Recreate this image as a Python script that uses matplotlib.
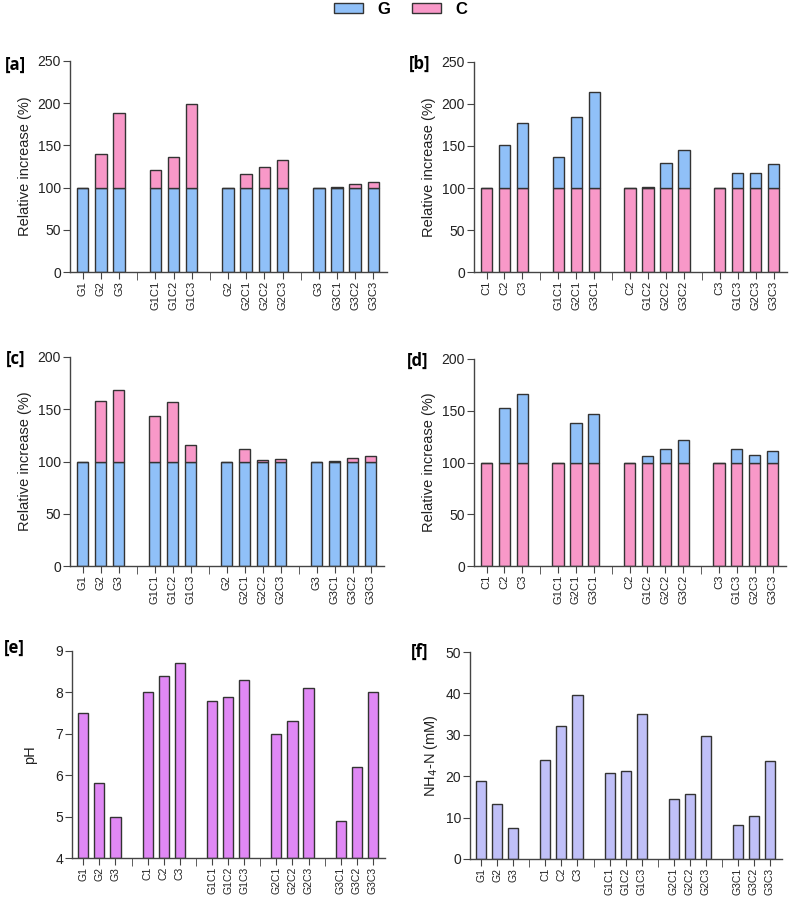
import matplotlib.pyplot as plt
import matplotlib.patches as mpatches
import numpy as np

plt.rcParams['font.family'] = ['Liberation Sans', 'DejaVu Sans']

blue = '#90C0F8'
pink = '#F898C8'
purple = '#E088F5'
lav = '#C0C0F8'
edge = '#333333'

# panel a / c : G base with C on top
labels_ac = ['G1', 'G2', 'G3', 'G1C1', 'G1C2', 'G1C3', 'G2', 'G2C1', 'G2C2', 'G2C3',
             'G3', 'G3C1', 'G3C2', 'G3C3']
total_a = [100, 140, 188, 120.5, 136.6, 198.7, 100, 116.5, 124.4, 132.3, 100, 100.5, 104.7, 107]
total_c = [100, 157.5, 168.4, 143.5, 156.5, 115.7, 100, 111.5, 101.6, 102.2, 100, 100.5, 103.5, 104.8]

# panel b / d : C base with G on top
labels_bd = ['C1', 'C2', 'C3', 'G1C1', 'G2C1', 'G3C1', 'C2', 'G1C2', 'G2C2', 'G3C2',
             'C3', 'G1C3', 'G2C3', 'G3C3']
total_b = [100, 151.5, 176.8, 136.5, 184.3, 214.8, 100, 101.3, 129.4, 145.2, 100, 117.5, 117.5, 128.6]
total_d = [100, 152.3, 166.5, 100, 137.7, 146.5, 100, 105.8, 113.5, 121.6, 100, 112.6, 106.8, 111]

base = [100] * 14

# panel e / f
labels_ef = ['G1', 'G2', 'G3', 'C1', 'C2', 'C3', 'G1C1', 'G1C2', 'G1C3',
             'G2C1', 'G2C2', 'G2C3', 'G3C1', 'G3C2', 'G3C3']
ph = [7.5, 5.8, 5.0, 8.0, 8.4, 8.7, 7.8, 7.9, 8.3, 7.0, 7.3, 8.1, 4.9, 6.2, 8.0]
nh4 = [18.9, 13.2, 7.6, 23.9, 32.1, 39.7, 20.8, 21.3, 35.0, 14.4, 15.6, 29.7, 8.2, 10.5, 23.6]

# bar positions with gaps between groups
groups_14 = [3, 3, 4, 4]
groups_15 = [3, 3, 3, 3, 3]


def positions(groups):
    pos, seps, x = [], [], 0
    for i, n in enumerate(groups):
        pos += list(range(x, x + n))
        x += n
        if i < len(groups) - 1:
            seps.append(x)
        x += 1
    return np.array(pos), seps


W, H = 794, 898
fig = plt.figure(figsize=(W / 100, H / 100), dpi=100)


def add_ax(l, r, t, b):
    return fig.add_axes([l / W, 1 - b / H, (r - l) / W, (b - t) / H])


def style(ax, pos, seps, labels, ylim, yticks, ylabel, xfs=8, yfs=10.5, lpad=4):
    for s in ['top', 'right']:
        ax.spines[s].set_visible(False)
    for s in ['left', 'bottom']:
        ax.spines[s].set_color('#444444')
        ax.spines[s].set_linewidth(1.0)
    ax.set_xlim(pos[0] - 0.7, pos[-1] + 0.75)
    ax.set_ylim(*ylim)
    ax.set_yticks(yticks)
    ax.set_xticks(pos)
    ax.set_xticklabels(labels, rotation=90, fontsize=xfs, color='#222222')
    ax.set_xticks(seps, minor=True)
    ax.tick_params(axis='x', which='major', length=5, pad=1.5, color='#444444')
    ax.tick_params(axis='x', which='minor', length=6, color='#444444')
    ax.tick_params(axis='y', length=5, pad=1.5, labelsize=10, color='#444444', labelcolor='#222222')
    ax.set_ylabel(ylabel, fontsize=yfs, color='#222222', labelpad=lpad)


def stacked(ax, groups, labels, total, c_base, c_top, ylim, yticks):
    pos, seps = positions(groups)
    top = [t - b for t, b in zip(total, base)]
    ax.bar(pos, base, width=0.63, color=c_base, edgecolor=edge, linewidth=1.0)
    ax.bar(pos, top, bottom=base, width=0.63, color=c_top, edgecolor=edge, linewidth=1.0)
    style(ax, pos, seps, labels, ylim, yticks, 'Relative increase (%)')


ax_a = add_ax(70, 387, 61, 272)
stacked(ax_a, groups_14, labels_ac, total_a, blue, pink, (0, 250), range(0, 251, 50))
ax_b = add_ax(474, 787, 62, 272)
stacked(ax_b, groups_14, labels_bd, total_b, pink, blue, (0, 250), range(0, 251, 50))
ax_c = add_ax(70, 384, 357, 566)
stacked(ax_c, groups_14, labels_ac, total_c, blue, pink, (0, 200), range(0, 201, 50))
ax_d = add_ax(474, 786, 359, 566)
stacked(ax_d, groups_14, labels_bd, total_d, pink, blue, (0, 200), range(0, 201, 50))

pos15, seps15 = positions(groups_15)
ax_e = add_ax(72, 385, 651, 858)
ax_e.bar(pos15, [v - 4 for v in ph], bottom=4, width=0.63, color=purple, edgecolor=edge, linewidth=1.0)
style(ax_e, pos15, seps15, labels_ef, (4, 9), range(4, 10), 'pH', xfs=7.5, yfs=10.5, lpad=13)

ax_f = add_ax(470, 782, 652, 859)
ax_f.bar(pos15, nh4, width=0.63, color=lav, edgecolor=edge, linewidth=1.0)
style(ax_f, pos15, seps15, labels_ef, (0, 50), range(0, 51, 10), r'NH$_4$-N (mM)', xfs=7.5, yfs=10.5)

# panel letters
for txt, x, y in [('[a]', 5, 65), ('[b]', 409, 64), ('[c]', 6, 359),
                  ('[d]', 407, 361), ('[e]', 4, 648), ('[f]', 411, 652)]:
    fig.text(x / W, 1 - y / H, txt, fontsize=12, fontweight='bold',
             family=['Open Sans', 'DejaVu Sans'], va='center', ha='left')

# legend
handles = [mpatches.Patch(facecolor=blue, edgecolor=edge, label='G'),
           mpatches.Patch(facecolor=pink, edgecolor=edge, label='C')]
leg = fig.legend(handles=handles, loc='center', bbox_to_anchor=(401 / W, 1 - 9 / H), ncol=2,
                 frameon=False, handlelength=1.7, handleheight=0.55, handletextpad=0.9,
                 columnspacing=1.3, prop={'weight': 'bold', 'size': 12})

fig.savefig('out.png', dpi=100)
